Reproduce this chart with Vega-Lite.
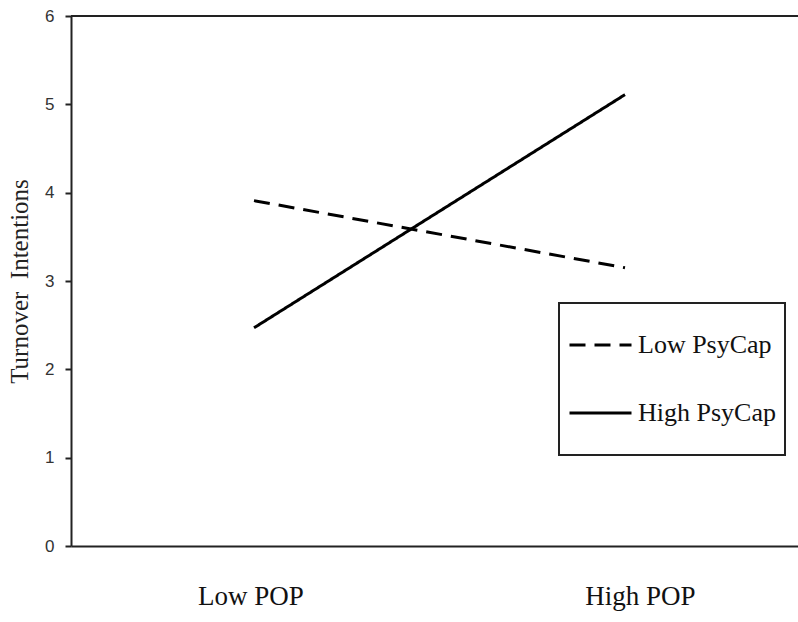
{
  "$schema": "https://vega.github.io/schema/vega-lite/v6.json",
  "autosize": {"type": "none"},
  "width": 727,
  "height": 530,
  "padding": {"left": 71, "top": 16, "right": 0, "bottom": 76},
  "background": "white",
  "config": {"view": {"stroke": null}},
  "data": {
    "values": [
      {"pop": 0, "group": "Low PsyCap", "value": 3.91},
      {"pop": 1, "group": "Low PsyCap", "value": 3.15},
      {"pop": 0, "group": "High PsyCap", "value": 2.47},
      {"pop": 1, "group": "High PsyCap", "value": 5.11}
    ]
  },
  "layer": [
    {
      "mark": {"type": "rule", "color": "#222", "strokeWidth": 2},
      "encoding": {"y": {"datum": 6, "type": "quantitative", "scale": {"domain": [0, 6], "nice": false}}}
    },
    {
      "mark": {"type": "line", "strokeWidth": 3, "color": "black"},
      "encoding": {
        "x": {
          "field": "pop",
          "type": "quantitative",
          "scale": {"domain": [-0.4933, 1.4663], "nice": false, "zero": false},
          "axis": {
            "values": [-0.01, 1.04],
            "labelExpr": "datum.value < 0.5 ? 'Low POP' : 'High POP'",
            "title": null,
            "grid": false,
            "ticks": false,
            "domainColor": "#222",
            "domainWidth": 2,
            "labelFont": "Liberation Serif",
            "labelFontSize": 27,
            "labelColor": "#111",
            "labelPadding": 37,
            "labelFlush": false
          }
        },
        "y": {
          "field": "value",
          "type": "quantitative",
          "scale": {"domain": [0, 6], "nice": false},
          "axis": {
            "values": [0, 1, 2, 3, 4, 5, 6],
            "format": "d",
            "title": "Turnover\u00a0\u00a0Intentions",
            "titleFont": "Liberation Serif",
            "titleFontSize": 25,
            "titleFontWeight": "normal",
            "titleColor": "#222",
            "titlePadding": 12,
            "grid": false,
            "domainColor": "#222",
            "domainWidth": 2,
            "tickColor": "#222",
            "tickWidth": 2,
            "tickSize": 6,
            "labelFont": "Liberation Sans",
            "labelFontSize": 17,
            "labelColor": "#333",
            "labelPadding": 11
          }
        },
        "strokeDash": {
          "field": "group",
          "type": "nominal",
          "scale": {"domain": ["Low PsyCap", "High PsyCap"], "range": [[16, 9], [1, 0]]},
          "legend": {
            "orient": "none",
            "legendX": 488,
            "legendY": 287,
            "title": null,
            "padding": 9,
            "strokeColor": "#222",
            "fillColor": "white",
            "symbolType": "stroke",
            "symbolSize": 3844,
            "symbolStrokeWidth": 3,
            "symbolStrokeColor": "black",
            "clipHeight": 66,
            "rowPadding": 2,
            "labelFont": "Liberation Serif",
            "labelFontSize": 26,
            "labelColor": "#111",
            "labelOffset": 5,
            "labelLimit": 300,
            "encode": {"legend": {"update": {"strokeWidth": {"value": 2}}}}
          }
        }
      }
    }
  ]
}
